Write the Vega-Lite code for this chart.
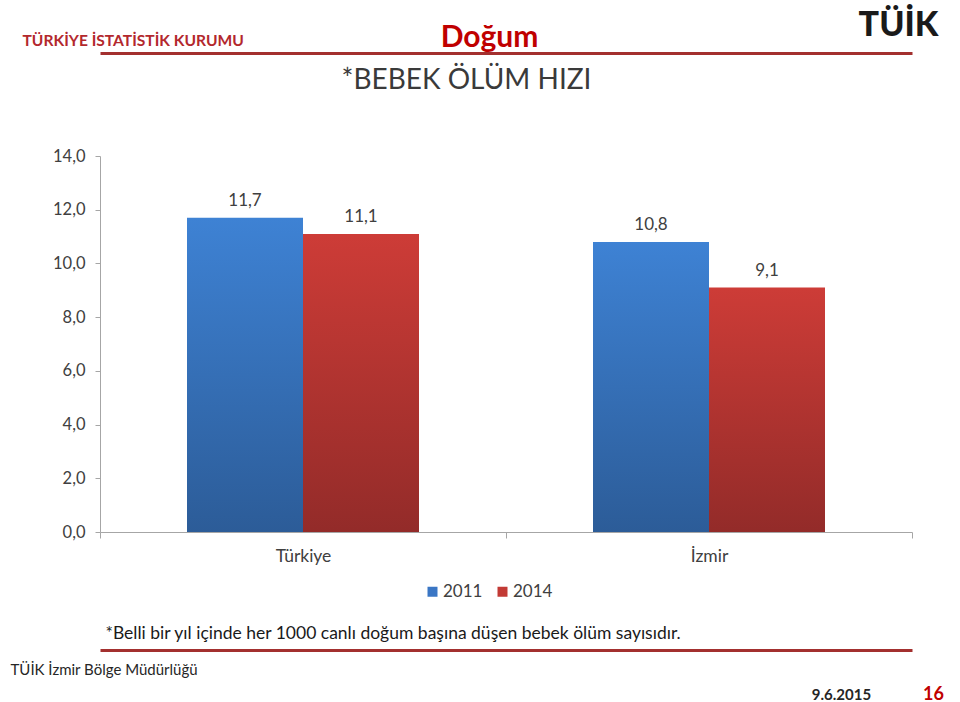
{
  "$schema": "https://vega.github.io/schema/vega-lite/v6.json",
  "width": 812,
  "height": 376,
  "autosize": {"type": "none"},
  "padding": {"left": 100, "top": 156, "right": 48, "bottom": 170},
  "background": "white",
  "config": {
    "font": "Lato",
    "view": {"stroke": null},
    "locale": {"number": {"decimal": ",", "thousands": ".", "grouping": [3], "currency": ["", " TL"]}}
  },
  "data": {
    "values": [
      {"country": "Türkiye", "year": "2011", "value": 11.7},
      {"country": "Türkiye", "year": "2014", "value": 11.1},
      {"country": "İzmir", "year": "2011", "value": 10.8},
      {"country": "İzmir", "year": "2014", "value": 9.1}
    ]
  },
  "layer": [
    {
      "mark": {"type": "bar"},
      "encoding": {
        "x": {
          "field": "country", "type": "nominal", "sort": ["Türkiye", "İzmir"],
          "scale": {"paddingInner": 0, "paddingOuter": 0},
          "axis": {
            "title": "*Belli bir yıl içinde her 1000 canlı doğum başına düşen bebek ölüm sayısıdır.",
            "titleX": 5, "titleY": 101, "titleAlign": "left", "titleBaseline": "middle", "titleAngle": 0,
            "titleFont": "Lato", "titleFontSize": 17.5, "titleFontWeight": "normal", "titleColor": "#1a1a1a",
            "labelAngle": 0, "labelFontSize": 17.5, "labelColor": "#404040", "labelPadding": 9,
            "tickBand": "extent", "tickSize": 6, "tickColor": "#a6a6a6", "domainColor": "#a6a6a6",
            "grid": false
          }
        },
        "xOffset": {"field": "year", "type": "nominal", "scale": {"paddingInner": 0, "paddingOuter": 0.75}},
        "y": {
          "field": "value", "type": "quantitative",
          "scale": {"domain": [0, 14], "nice": false},
          "axis": {
            "values": [0, 2, 4, 6, 8, 10, 12, 14], "format": ".1f",
            "title": "TÜRKİYE İSTATİSTİK KURUMU",
            "titleX": -78, "titleY": -116, "titleAlign": "left", "titleBaseline": "middle", "titleAngle": 0,
            "titleFont": "Lato", "titleFontSize": 15.6, "titleFontWeight": "bold", "titleColor": "#b3282d",
            "labelFontSize": 16.5, "labelColor": "#404040", "labelPadding": 10,
            "tickSize": 5, "tickColor": "#a6a6a6", "domainColor": "#a6a6a6", "grid": false
          }
        },
        "fill": {
          "condition": {
            "test": "datum.year == '2011'",
            "value": {"gradient": "linear", "x1": 0, "y1": 0, "x2": 0, "y2": 1,
              "stops": [{"offset": 0, "color": "#3e82d4"}, {"offset": 1, "color": "#2c5c98"}]}
          },
          "value": {"gradient": "linear", "x1": 0, "y1": 0, "x2": 0, "y2": 1,
            "stops": [{"offset": 0, "color": "#cd3c37"}, {"offset": 1, "color": "#932b29"}]}
        }
      }
    },
    {
      "mark": {"type": "text", "dy": -17, "fontSize": 17, "color": "#404040", "font": "Lato"},
      "encoding": {
        "x": {
          "field": "country", "type": "nominal", "sort": ["Türkiye", "İzmir"],
          "axis": {
            "orient": "top", "offset": 103, "labels": false, "ticks": false,
            "domainColor": "#a3302f", "domainWidth": 3,
            "title": "Doğum", "titleX": 389, "titleY": -16, "titleAlign": "center", "titleBaseline": "middle", "titleAngle": 0,
            "titleFont": "Lato", "titleFontSize": 30, "titleFontWeight": "bold", "titleColor": "#c00000"
          }
        },
        "xOffset": {"field": "year", "type": "nominal"},
        "y": {
          "field": "value", "type": "quantitative",
          "axis": {
            "orient": "right", "labels": false, "ticks": false, "domain": false, "grid": false,
            "title": "9.6.2015", "titleX": -71, "titleY": 538, "titleAlign": "center", "titleBaseline": "middle", "titleAngle": 0,
            "titleFont": "Lato", "titleFontSize": 15, "titleFontWeight": "bold", "titleColor": "#262626"
          }
        },
        "text": {"field": "value", "type": "quantitative", "format": ".1f"}
      }
    },
    {
      "mark": {"type": "text", "text": ""},
      "encoding": {
        "x": {
          "field": "country", "type": "nominal", "sort": ["Türkiye", "İzmir"],
          "axis": {
            "orient": "bottom", "offset": 118, "labels": false, "ticks": false,
            "domainColor": "#a3302f", "domainWidth": 3,
            "title": "TÜİK İzmir Bölge Müdürlüğü", "titleX": -90, "titleY": 19, "titleAlign": "left", "titleBaseline": "middle", "titleAngle": 0,
            "titleFont": "Lato", "titleFontSize": 15, "titleFontWeight": "normal", "titleColor": "#262626"
          }
        },
        "xOffset": {"field": "year", "type": "nominal"},
        "y": {
          "field": "value", "type": "quantitative",
          "axis": {
            "orient": "right", "labels": false, "ticks": false, "domain": false, "grid": false,
            "title": "16", "titleX": 21, "titleY": 538, "titleAlign": "center", "titleBaseline": "middle", "titleAngle": 0,
            "titleFont": "Lato", "titleFontSize": 18, "titleFontWeight": "bold", "titleColor": "#c00000"
          }
        },
        "color": {
          "field": "year", "type": "nominal",
          "scale": {"range": ["#3a76c4", "#c23a35"]},
          "legend": {
            "orient": "none", "direction": "horizontal", "legendX": 324, "legendY": 427,
            "title": null, "symbolType": "square", "symbolSize": 100, "symbolStrokeWidth": 0,
            "labelFontSize": 17, "labelColor": "#404040", "labelFont": "Lato", "columnPadding": 11, "labelOffset": 2, "padding": 0
          }
        }
      }
    },
    {
      "mark": {"type": "text", "text": ""},
      "encoding": {
        "x": {
          "field": "country", "type": "nominal", "sort": ["Türkiye", "İzmir"],
          "axis": {
            "orient": "top", "offset": 0, "labels": false, "ticks": false, "domain": false,
            "title": "*BEBEK ÖLÜM HIZI", "titleX": 366, "titleY": -76, "titleAlign": "center", "titleBaseline": "middle", "titleAngle": 0,
            "titleFont": "Lato", "titleFontSize": 28, "titleFontWeight": "normal", "titleColor": "#3a3a3a"
          }
        },
        "y": {
          "field": "value", "type": "quantitative",
          "axis": {
            "orient": "left", "labels": false, "ticks": false, "domain": false, "grid": false,
            "title": "TÜİK", "titleX": 798, "titleY": -131, "titleAlign": "center", "titleBaseline": "middle", "titleAngle": 0,
            "titleFont": "Lato", "titleFontSize": 34, "titleFontWeight": 900, "titleColor": "#1a1a1a"
          }
        }
      }
    }
  ],
  "resolve": {"axis": {"x": "independent", "y": "independent"}}
}
